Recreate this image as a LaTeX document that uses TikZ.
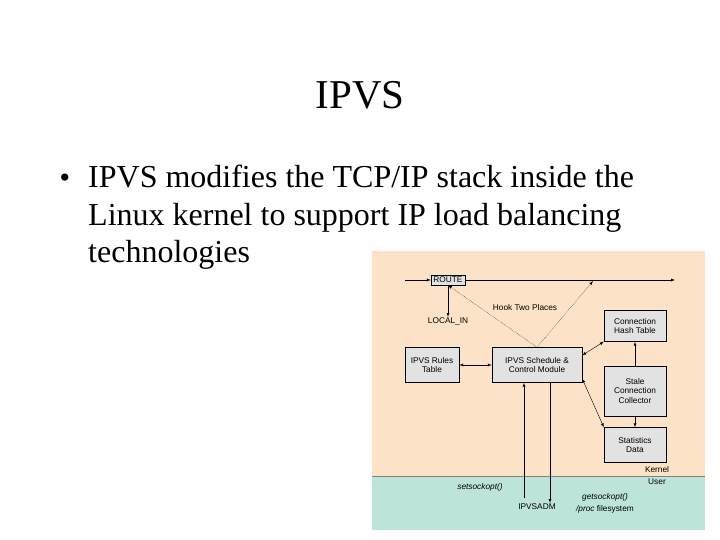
\documentclass[tikz,border=0pt]{standalone}
\usepackage{fontspec}
\setmainfont{Liberation Serif}
\newfontfamily\diagfont{Liberation Sans}
\usetikzlibrary{positioning}
\definecolor{kernelbg}{RGB}{252,226,198}
\definecolor{userbg}{RGB}{188,228,218}
\definecolor{boxbg}{RGB}{226,226,226}
\tikzset{
  modbox/.style={draw, fill=boxbg, font=\diagfont\fontsize{8.3}{9.5}\selectfont, align=center, inner sep=0pt},
  lbl/.style={font=\diagfont\fontsize{8.3}{9.5}\selectfont, inner sep=0pt},
  arr/.style={-latex, thin},
  darr/.style={latex-latex, thin},
  hook/.style={-latex, thin, densely dotted}
}
\begin{document}
\begin{tikzpicture}[x=1pt, y=-1pt]
\useasboundingbox (0,0) rectangle (720,540);
% slide text
\node (title) at (360,95) {\fontsize{41}{44}\selectfont IPVS};
\node[anchor=west] (bul) at (56,181) {\fontsize{30}{36}\selectfont\textbullet};
\node[anchor=north west, align=left, inner sep=0pt, font=\fontsize{32}{37.5}\selectfont] (body) at (88,165)
  {IPVS modifies the TCP/IP stack inside the\\Linux kernel to support IP load balancing\\technologies};
% panel
\fill[kernelbg] (372,251) rectangle (705,476);
\fill[userbg] (372,476) rectangle (705,530);
\draw[thin, gray] (372,476) -- (705,476);
% boxes
\node[modbox, minimum width=34pt, minimum height=10pt] (route) at (448,280) {ROUTE};
\node[modbox, minimum width=54pt, minimum height=35pt] (rules) at (432,365) {IPVS Rules\\Table};
\node[modbox, minimum width=90pt, minimum height=35pt] (sched) at (537,365) {IPVS Schedule \&\\Control Module};
\node[modbox, minimum width=62pt, minimum height=31pt] (hash) at (635,326) {Connection\\Hash Table};
\node[modbox, minimum width=62pt, minimum height=50pt] (stale) at (635,391) {Stale\\Connection\\Collector};
\node[modbox, minimum width=62pt, minimum height=35pt] (stats) at (635,445) {Statistics\\Data};
% labels
\node[lbl] (localin) at (448,321) {LOCAL\_IN};
\node[lbl] (hooktxt) at (525,308) {Hook Two Places};
\node[lbl] (kernel) at (657,470) {Kernel};
\node[lbl] (user) at (657,482) {User};
\node[lbl] (setsock) at (480,487) {\itshape setsockopt()};
\node[lbl] (ipvsadm) at (537,507) {IPVSADM};
\node[lbl] (getsock) at (605,497) {\itshape getsockopt()};
\node[lbl] (procfs) at (605,509) {\itshape /proc\/\upshape\ filesystem};
\coordinate (in) at (405,280);
\coordinate (out) at (675,280);
\coordinate (hookout) at (593,281);
\coordinate (admup) at (524,498);
\coordinate (admdn) at (550,503);
% connectors
\draw[arr] (in) -- (route);
\draw[arr] (route) -- (out);
\draw[arr] (route) -- (localin);
\draw[hook] (sched.north) -- (route.south);
\draw[hook] (sched.north) -- (hookout);
\draw[darr] (sched.north east) ++(0,8) -- (hash.south west);
\draw[darr] (sched.south east) ++(0,-4) -- (stats.north west);
\draw[darr] (rules) -- (sched);
\draw[arr] (stale) -- (hash);
\draw[arr] (stale) -- (stats);
\draw[arr] (admup) -- (admup |- sched.south);
\draw[arr] (admdn |- sched.south) -- (admdn);
\end{tikzpicture}
\end{document}
